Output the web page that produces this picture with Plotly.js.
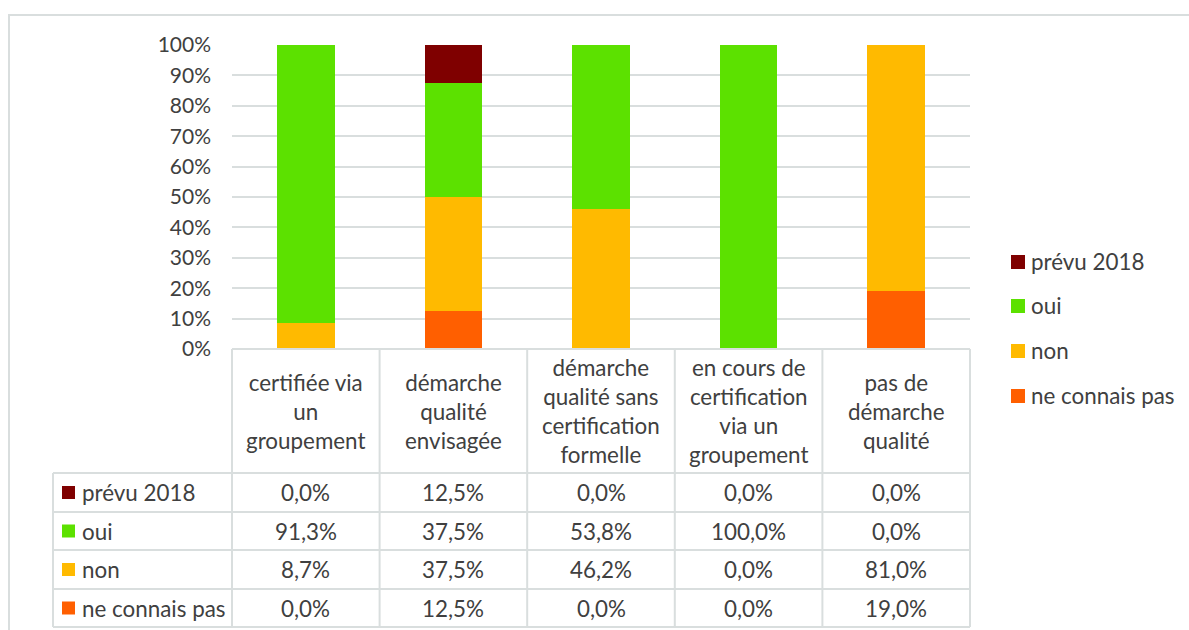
<!DOCTYPE html>
<html>
<head>
<meta charset="utf-8">
<script src="https://cdn.plot.ly/plotly-3.0.1.min.js"></script>
<style>html,body{margin:0;padding:0;background:#fff;}#chart{width:1189px;height:630px;}</style>
</head>
<body>
<div id="chart"></div>
<script>
// ---- data ----
var categories = ["certifiée via un groupement", "démarche qualité envisagée", "démarche qualité sans certification formelle", "en cours de certification via un groupement", "pas de démarche qualité"];
var categoryLabels = ["certifiée via<br>un<br>groupement", "démarche<br>qualité<br>envisagée", "démarche<br>qualité sans<br>certification<br>formelle", "en cours de<br>certification<br>via un<br>groupement", "pas de<br>démarche<br>qualité"];
var seriesNames = ["prévu 2018", "oui", "non", "ne connais pas"];
var prevu2018 = [0.0, 12.5, 0.0, 0.0, 0.0];
var oui = [91.3, 37.5, 53.8, 100.0, 0.0];
var non = [8.7, 37.5, 46.2, 0.0, 81.0];
var neConnaisPas = [0.0, 12.5, 0.0, 0.0, 19.0];
var yTickVals = [0, 0.1, 0.2, 0.3, 0.4, 0.5, 0.6, 0.7, 0.8, 0.9, 1.0];

// ---- styles ----
var colors = {"prévu 2018": "#7F0000", "oui": "#5CE100", "non": "#FFBA00", "ne connais pas": "#FF5F00"};
var seriesValues = {"prévu 2018": prevu2018, "oui": oui, "non": non, "ne connais pas": neConnaisPas};
var textColor = "#404040";
var lineColor = "#D9DEDE";
var fontFam = "Lato, 'Open Sans', sans-serif";
var FS = 21;     // axis ticks
var FT = 22.4;   // table and legend text

// pixel geometry helpers (plot area 232..970 x 45..349)
var L = 232, R = 970, T = 45, B = 349;
function px(x) { return (x - L) / (R - L); }
function py(y) { return (B - y) / (B - T); }

// stacking order bottom->top
var stackOrder = ["ne connais pas", "non", "oui", "prévu 2018"];
var traces = stackOrder.map(function (name) {
  return {
    type: "bar",
    name: name,
    x: categories,
    y: seriesValues[name].map(function (v) { return v / 100; }),
    marker: {color: colors[name], line: {width: 0}},
    width: 0.39,
    showlegend: false,
    hoverinfo: "skip"
  };
});

var shapes = [];
var annotations = [];
function hline(x0, x1, y) {
  shapes.push({type: "line", xref: "paper", yref: "paper", x0: px(x0), x1: px(x1), y0: py(y), y1: py(y), line: {color: lineColor, width: 2}, layer: "above"});
}
function vline(x, y0, y1) {
  shapes.push({type: "line", xref: "paper", yref: "paper", x0: px(x), x1: px(x), y0: py(y0), y1: py(y1), line: {color: lineColor, width: 2}, layer: "above"});
}

// outer chart border
shapes.push({type: "rect", xref: "paper", yref: "paper", x0: px(9), x1: px(1200), y0: py(15), y1: py(645), line: {color: lineColor, width: 2}, fillcolor: "rgba(0,0,0,0)", layer: "below"});

// table geometry
var tableLeft = 53;
var rowLines = [473, 512, 550, 589, 627];
hline(L, R, B);
rowLines.forEach(function (y) { hline(tableLeft, R, y); });
vline(tableLeft, rowLines[0], rowLines[rowLines.length - 1]);
for (var i = 0; i <= categories.length; i++) {
  var xx = L + (R - L) * i / categories.length;
  vline(xx, B, rowLines[rowLines.length - 1]);
}

// header labels
categories.forEach(function (c, i) {
  annotations.push({xref: "x", yref: "paper", x: c, y: py((B + rowLines[0]) / 2), text: categoryLabels[i], showarrow: false, xanchor: "center", yanchor: "middle", align: "center", font: {family: fontFam, size: FT, color: textColor}});
});

function fmt(v) { return v.toFixed(1).replace(".", ",") + "%"; }

// table rows
seriesNames.forEach(function (name, r) {
  var yc = (rowLines[r] + rowLines[r + 1]) / 2;
  shapes.push({type: "rect", xref: "paper", yref: "paper", x0: px(62), x1: px(75), y0: py(yc - 6.5), y1: py(yc + 6.5), fillcolor: colors[name], line: {width: 0}, layer: "above"});
  annotations.push({xref: "paper", yref: "paper", x: px(80), y: py(yc), text: name, showarrow: false, xanchor: "left", yanchor: "middle", font: {family: fontFam, size: FT, color: textColor}});
  seriesValues[name].forEach(function (v, i) {
    annotations.push({xref: "x", yref: "paper", x: categories[i], y: py(yc), text: fmt(v), showarrow: false, xanchor: "center", yanchor: "middle", font: {family: fontFam, size: FT, color: textColor}});
  });
});

// right legend
var legendY = [262, 306, 351, 396];
seriesNames.forEach(function (name, r) {
  var yc = legendY[r];
  shapes.push({type: "rect", xref: "paper", yref: "paper", x0: px(1011), x1: px(1025), y0: py(yc - 7), y1: py(yc + 7), fillcolor: colors[name], line: {width: 0}, layer: "above"});
  annotations.push({xref: "paper", yref: "paper", x: px(1029), y: py(yc - 1), text: name, showarrow: false, xanchor: "left", yanchor: "middle", font: {family: fontFam, size: FT, color: textColor}});
});

var layout = {
  width: 1189, height: 630,
  margin: {l: L, r: 1189 - R, t: T, b: 630 - B, pad: 0},
  paper_bgcolor: "#ffffff", plot_bgcolor: "#ffffff",
  barmode: "stack",
  showlegend: false,
  font: {family: fontFam, size: FS, color: textColor},
  xaxis: {type: "category", range: [-0.5, 4.5], showticklabels: false, showgrid: false, zeroline: false, showline: false, ticks: "", fixedrange: true},
  yaxis: {range: [0, 1], tickvals: yTickVals, tickformat: ".0%", showgrid: true, gridcolor: lineColor, gridwidth: 2, zeroline: false, showline: false, ticks: "", ticklabelstandoff: 20, tickfont: {family: fontFam, size: FS, color: textColor}, fixedrange: true},
  shapes: shapes,
  annotations: annotations
};

Plotly.newPlot("chart", traces, layout, {displayModeBar: false, staticPlot: true});
</script>
</body>
</html>
